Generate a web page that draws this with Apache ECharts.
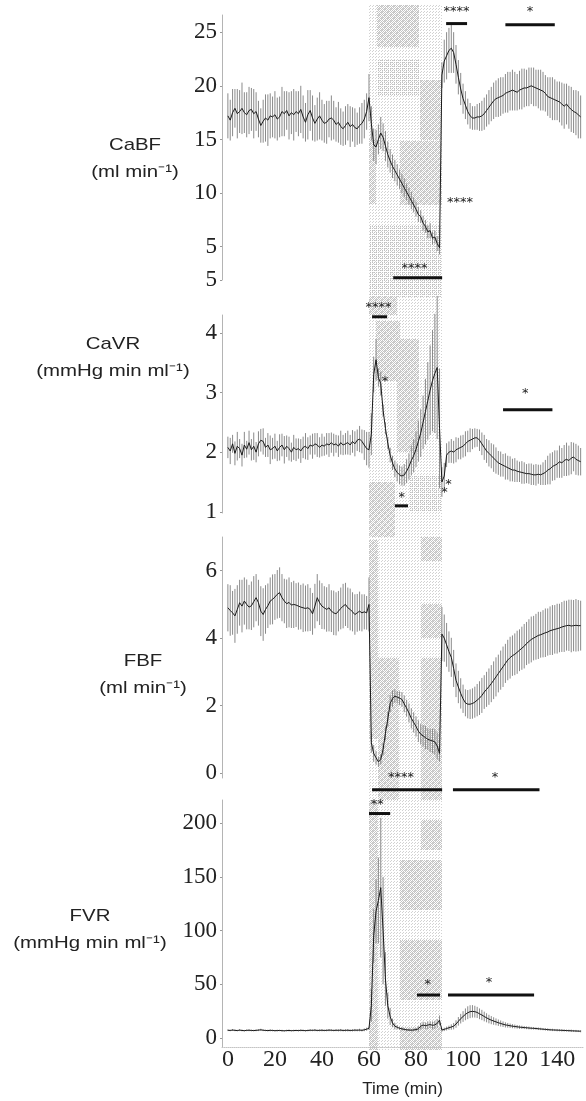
<!DOCTYPE html>
<html>
<head>
<meta charset="utf-8">
<script src="https://cdn.jsdelivr.net/npm/echarts@6/dist/echarts.min.js"></script>
<style>
html, body { margin: 0; padding: 0; background: #fff; }
#chart { width: 586px; height: 1101px; }
</style>
</head>
<body>
<div id="chart"></div>
<script>
// time points (min)
const minutes = [
  0,1,2,3,4,5,6,7,8,9,10,11,12,13,14,15,16,17,18,19,20,21,22,23,24,25,26,27,28,29,
  30,31,32,33,34,35,36,37,38,39,40,41,42,43,44,45,46,47,48,49,50,51,52,53,54,55,56,57,58,59,
  60,61,62,63,64,65,66,67,68,69,70,71,72,73,74,75,76,77,78,79,80,81,82,83,84,85,86,87,88,89,
  90,91,92,93,94,95,96,97,98,99,100,101,102,103,104,105,106,107,108,109,110,111,112,113,114,115,116,117,118,119,
  120,121,122,123,124,125,126,127,128,129,130,131,132,133,134,135,136,137,138,139,140,141,142,143,144,145,146,147,148,149,150
];
const xTicks = [0, 20, 40, 60, 80, 100, 120, 140];

// CaBF (ml min-1)
const cabfMean = [
  17.2,16.8,17.5,17.9,17.4,17.6,17.9,17.5,17.3,17.7,
  17.8,17.4,17.6,16.9,16.3,16.7,17.0,16.8,17.2,17.1,
  17.3,16.9,17.1,17.6,17.4,17.7,17.2,17.5,17.3,17.6,
  17.4,17.8,17.1,16.6,17.3,17.7,17.0,16.5,16.9,17.2,
  16.8,16.5,16.6,16.9,17.0,16.8,16.4,16.6,16.2,16.0,
  16.3,16.6,16.2,16.4,16.1,16.0,16.3,16.5,16.9,17.6,
  18.9,16.5,14.5,14.3,15.0,15.6,15.2,14.4,13.6,13.0,
  12.5,12.1,11.7,11.3,10.9,10.5,10.1,9.7,9.3,8.9,
  8.5,8.0,7.8,7.2,6.9,6.4,6.5,5.8,5.9,5.3,
  4.9,21.0,22.3,22.8,23.3,23.5,23.1,22.0,20.8,19.7,
  18.8,18.2,17.6,17.2,17.0,17.0,17.1,17.1,17.2,17.4,
  17.7,18.0,18.3,18.6,18.8,18.9,19.0,19.1,19.3,19.4,
  19.5,19.6,19.5,19.4,19.6,19.7,19.8,19.8,19.9,20.0,
  19.9,19.8,19.7,19.6,19.5,19.3,19.0,18.9,18.8,18.7,
  18.6,18.5,18.3,18.1,18.3,18.0,17.8,17.6,17.5,17.3,17.1
];
const cabfSe = [
  2.1,1.9,2.2,1.8,2.3,2.0,2.4,1.9,2.1,2.2,
  2.0,2.3,1.8,1.7,1.6,2.0,2.2,2.4,2.1,1.9,
  2.2,2.0,1.9,2.3,2.1,1.8,2.2,2.0,2.4,1.9,
  2.1,2.2,2.0,1.8,2.3,1.9,2.1,1.7,2.0,2.2,
  1.9,1.8,2.0,1.7,2.1,1.8,1.6,1.9,1.7,1.6,
  1.8,1.7,1.9,1.6,1.8,1.5,1.7,1.9,1.8,1.7,
  2.2,1.6,1.5,1.6,1.4,1.5,1.3,1.4,1.2,1.1,
  1.1,1.0,1.0,0.9,0.9,0.9,0.8,0.8,0.8,0.7,
  0.7,0.7,0.6,0.7,0.6,0.6,0.7,0.6,0.6,0.7,
  0.6,1.2,2.0,2.2,2.1,2.3,1.9,1.8,1.6,1.5,
  1.4,1.3,1.2,1.2,1.1,1.1,1.2,1.3,1.4,1.5,
  1.5,1.6,1.6,1.7,1.7,1.8,1.8,1.7,1.8,1.9,
  1.8,1.9,1.8,1.7,1.8,1.9,1.8,1.7,1.8,1.7,
  1.8,1.7,1.8,1.9,1.8,1.7,1.8,1.9,2.0,1.9,
  1.8,1.9,2.0,2.1,1.9,2.0,2.1,2.0,2.1,2.2,2.0
];

// CaVR (mmHg min ml-1)
const cavrMean = [
  2.08,2.02,2.14,1.98,2.10,2.06,1.95,2.12,2.05,2.16,
  2.04,2.10,2.00,2.14,2.20,2.18,2.08,2.12,2.04,2.06,
  2.10,2.02,2.08,2.12,2.04,2.10,2.06,2.00,2.08,2.04,
  2.06,2.02,2.08,2.10,2.06,2.12,2.10,2.14,2.12,2.08,
  2.12,2.10,2.14,2.12,2.16,2.12,2.14,2.10,2.16,2.12,
  2.14,2.16,2.12,2.18,2.14,2.20,2.22,2.18,2.12,2.06,
  2.04,2.30,3.30,3.55,3.25,3.15,2.70,2.40,2.15,1.95,
  1.82,1.72,1.66,1.62,1.60,1.62,1.68,1.76,1.86,1.94,
  2.05,2.18,2.32,2.50,2.68,2.86,3.04,3.20,3.32,3.42,
  2.40,1.50,1.60,1.95,2.00,2.02,2.00,2.04,2.06,2.08,
  2.10,2.14,2.18,2.20,2.22,2.24,2.24,2.20,2.14,2.08,
  2.02,1.98,1.94,1.90,1.86,1.82,1.80,1.78,1.76,1.74,
  1.72,1.70,1.70,1.68,1.67,1.66,1.65,1.64,1.64,1.63,
  1.62,1.62,1.63,1.62,1.64,1.66,1.70,1.72,1.76,1.78,
  1.80,1.84,1.82,1.86,1.88,1.86,1.90,1.92,1.88,1.86,1.84
];
const cavrSe = [
  0.18,0.22,0.15,0.20,0.24,0.16,0.19,0.22,0.14,0.20,
  0.18,0.23,0.17,0.21,0.19,0.22,0.16,0.20,0.24,0.18,
  0.21,0.17,0.22,0.19,0.23,0.18,0.20,0.16,0.21,0.19,
  0.17,0.20,0.18,0.22,0.19,0.16,0.21,0.18,0.20,0.17,
  0.19,0.16,0.18,0.20,0.17,0.19,0.15,0.18,0.20,0.17,
  0.18,0.20,0.17,0.19,0.21,0.18,0.22,0.20,0.25,0.28,
  0.30,0.35,0.30,0.35,0.15,0.20,0.10,0.10,0.10,0.12,
  0.12,0.14,0.15,0.16,0.16,0.18,0.20,0.22,0.25,0.28,
  0.30,0.34,0.40,0.45,0.55,0.65,0.75,0.85,1.00,1.20,
  1.00,0.25,0.22,0.20,0.18,0.20,0.19,0.21,0.18,0.20,
  0.19,0.21,0.18,0.20,0.17,0.16,0.15,0.18,0.19,0.21,
  0.20,0.22,0.21,0.23,0.22,0.20,0.21,0.19,0.22,0.20,
  0.21,0.19,0.20,0.18,0.17,0.19,0.18,0.16,0.17,0.18,
  0.17,0.18,0.16,0.17,0.19,0.21,0.24,0.26,0.24,0.25,
  0.23,0.27,0.25,0.26,0.28,0.25,0.27,0.24,0.26,0.25,0.23
];

// FBF (ml min-1)
const fbfMean = [
  4.90,4.82,4.75,4.66,4.85,5.05,4.95,5.10,5.00,4.92,
  4.96,5.08,5.20,5.05,4.80,4.70,4.85,4.96,5.10,5.15,
  5.22,5.30,5.35,5.20,5.10,5.02,5.06,4.98,5.00,4.98,
  4.95,4.92,4.90,4.88,4.90,4.85,4.72,4.95,5.20,5.05,
  4.95,4.90,4.85,4.90,4.80,4.75,4.72,4.80,4.88,4.95,
  5.00,4.90,4.85,4.78,4.70,4.75,4.80,4.75,4.78,4.75,
  5.00,0.90,0.58,0.45,0.33,0.40,0.70,1.18,1.60,2.06,
  2.20,2.28,2.25,2.22,2.18,2.05,1.92,1.78,1.62,1.50,
  1.38,1.24,1.15,1.10,1.05,1.00,0.97,0.95,0.92,0.80,
  0.58,4.12,4.00,3.80,3.60,3.43,3.10,2.75,2.55,2.36,
  2.20,2.08,2.04,2.04,2.06,2.10,2.16,2.22,2.30,2.40,
  2.48,2.56,2.65,2.75,2.85,2.95,3.05,3.15,3.25,3.35,
  3.42,3.48,3.52,3.58,3.64,3.70,3.76,3.84,3.90,3.96,
  4.00,4.04,4.08,4.10,4.13,4.16,4.18,4.22,4.24,4.26,
  4.28,4.30,4.33,4.35,4.37,4.38,4.36,4.37,4.38,4.37,4.37
];
const fbfSe = [
  0.70,0.75,0.65,0.80,0.72,0.68,0.78,0.70,0.74,0.66,
  0.72,0.76,0.70,0.68,0.74,0.78,0.72,0.66,0.70,0.74,
  0.68,0.72,0.75,0.70,0.66,0.72,0.74,0.68,0.70,0.65,
  0.70,0.66,0.72,0.68,0.70,0.64,0.62,0.66,0.70,0.66,
  0.68,0.64,0.66,0.70,0.62,0.66,0.64,0.60,0.62,0.66,
  0.64,0.60,0.62,0.58,0.60,0.56,0.58,0.55,0.52,0.50,
  0.80,0.30,0.25,0.20,0.15,0.15,0.18,0.20,0.22,0.25,
  0.25,0.20,0.18,0.20,0.22,0.25,0.25,0.28,0.30,0.30,
  0.30,0.32,0.30,0.32,0.34,0.32,0.35,0.36,0.38,0.40,
  0.25,0.80,0.70,0.65,0.60,0.58,0.55,0.50,0.48,0.45,
  0.42,0.40,0.42,0.44,0.45,0.46,0.48,0.50,0.52,0.50,
  0.52,0.54,0.55,0.56,0.58,0.56,0.58,0.60,0.58,0.60,
  0.62,0.60,0.62,0.64,0.62,0.64,0.66,0.64,0.66,0.68,
  0.66,0.68,0.70,0.68,0.70,0.72,0.70,0.72,0.74,0.72,
  0.74,0.72,0.74,0.76,0.74,0.76,0.78,0.76,0.78,0.76,0.74
];

// FVR (mmHg min ml-1)
const fvrMean = [
  7.2,7.0,7.4,7.1,6.9,7.3,7.0,6.8,7.1,7.2,
  7.0,6.9,7.1,7.3,7.6,7.2,7.0,6.9,7.1,7.0,
  6.8,6.9,7.0,6.8,6.7,6.9,7.0,6.8,6.9,7.0,
  6.9,7.1,7.0,6.8,7.0,7.2,7.1,7.3,7.0,7.1,
  7.2,7.0,7.1,7.3,7.2,7.0,7.2,7.1,7.3,7.0,
  7.1,7.2,7.0,7.1,7.3,7.2,7.4,7.1,7.6,8.2,
  9.0,30.0,95.0,118.0,128.0,140.0,100.0,55.0,30.0,20.0,
  14.0,11.0,10.0,9.0,8.5,8.0,7.6,7.4,7.3,7.5,
  7.8,8.5,11.0,12.0,11.5,12.0,12.5,11.8,12.2,13.5,
  16.5,7.4,8.0,8.8,9.5,10.2,11.0,13.0,15.5,18.0,
  20.0,22.0,23.5,24.5,24.8,24.5,23.8,22.5,21.4,20.0,
  18.8,17.6,16.6,15.8,15.0,14.2,13.5,12.8,12.2,11.8,
  11.4,11.0,10.7,10.4,10.1,9.9,9.7,9.5,9.3,9.1,
  9.0,8.8,8.6,8.4,8.2,8.0,7.8,7.6,7.5,7.4,
  7.3,7.2,7.1,7.0,6.9,6.8,6.7,6.6,6.5,6.4,6.3
];
const fvrSe = [
  0.8,0.7,0.9,0.8,0.7,0.9,0.8,0.7,0.8,0.9,
  0.8,0.7,0.8,0.9,1.0,0.8,0.7,0.8,0.9,0.8,
  0.7,0.8,0.7,0.8,0.7,0.8,0.9,0.7,0.8,0.7,
  0.8,0.9,0.8,0.7,0.8,0.9,0.8,1.0,0.8,0.9,
  1.0,0.8,0.9,1.0,0.9,0.8,0.9,1.0,1.1,0.9,
  1.0,1.1,0.9,1.0,1.1,1.0,1.2,1.0,1.3,1.4,
  1.5,15,25,30,40,65,50,25,12,8,
  4,3,2,1.5,1.5,1.2,1.2,1.0,1.0,1.2,
  1.5,2.5,3.0,3.2,3.0,3.5,3.2,3.6,3.8,4.0,
  4.5,1.5,1.6,1.8,2.0,2.5,3.0,3.5,4.0,4.5,
  5.0,5.5,6.0,6.0,5.8,5.5,5.2,5.0,4.8,4.5,
  4.2,4.0,3.8,3.5,3.2,3.0,2.8,2.6,2.4,2.2,
  2.0,1.9,1.8,1.7,1.6,1.5,1.4,1.3,1.3,1.2,
  1.2,1.1,1.2,1.1,1.0,1.1,1.2,1.0,1.1,1.0,
  1.1,1.0,1.1,1.0,0.9,1.0,1.1,0.9,1.0,0.9,1.0
];

// tick values per panel
const cabfTicks = [1.9, 5, 10, 15, 20, 25];
const cavrTicks = [1, 2, 3, 4];
const fbfTicks  = [0, 2, 4, 6];
const fvrTicks  = [0, 50, 100, 150, 200];

// significance bars: [start, end, lineValue, label, labelTime, labelValue]
const cabfSig = [
  [92.8, 101.7, 25.8, '****', 97.2, 26.9],
  [118, 139, 25.7, '*', 128.5, 26.9],
  [null, null, null, '****', 98.7, 9.1],
  [70.3, 91.1, 2.1, '****', 79.3, 3.0]
];
const cavrSig = [
  [61.3, 67.7, 4.27, '****', 64.0, 4.42],
  [null, null, null, '*', 66.8, 3.18],
  [71, 76.6, 1.1, '*', 73.9, 1.23],
  [null, null, null, '*', 93.8, 1.45],
  [null, null, null, '*', 92.1, 1.32],
  [117, 138, 2.71, '*', 126.4, 2.99]
];
const fbfSig = [
  [61.3, 91.1, -0.5, '****', 73.6, -0.15],
  [95.7, 132.5, -0.5, '*', 113.6, -0.15]
];
const fvrSig = [
  [60, 69, 209, '**', 63.5, 217],
  [80.4, 90.2, 40, '*', 85, 50],
  [93.6, 130.2, 40, '*', 111, 52]
];

// shaded ischaemia period: [start, end, low, high, density]
const cabfShade = [
  [60, 91, 0.3, 27.5, 0], [63.5, 81.5, 23.6, 27.5, 1], [63.5, 81.5, 19.1, 22.5, 2],
  [81.5, 91, 14.9, 20.5, 1], [73, 91, 8.9, 14.9, 1], [60, 63, 8.9, 15, 1], [60, 91, 0.3, 7, 2]
];
const cavrShade = [
  [60, 91, 0.58, 4.62, 0], [60, 72, 4.3, 4.62, 1], [63, 73, 3.2, 4.2, 1],
  [72, 81.5, 2.0, 3.9, 1], [60, 71, 0.58, 1.5, 1], [77, 91, 1.0, 1.6, 2]
];
const fbfShade = [
  [60, 91, -0.8, 7.71, 0], [60, 64, 1.0, 6.9, 1], [64, 73, -0.8, 3.4, 1],
  [82, 91, 4.0, 5.0, 1], [82, 91, 6.3, 7.0, 1], [82, 91, -0.8, 3.4, 1]
];
const fvrShade = [
  [60, 91, -11, 221.6, 0], [60, 64, -11, 221.6, 1], [73, 91, 119, 166, 1],
  [73, 91, 35, 91, 1], [73, 91, -11, 10, 1], [82, 91, 175, 203, 1]
];

const panels = [
  { mean: cabfMean, se: cabfSe, min: 1.9, max: 26.6, ticks: cabfTicks, sig: cabfSig, shade: cabfShade,
    top: 15, height: 265, title: 'CaBF\n(ml min⁻¹)', tx: 135, ty: 159 },
  { mean: cavrMean, se: cavrSe, min: 0.98, max: 4.3, ticks: cavrTicks, sig: cavrSig, shade: cavrShade,
    top: 315, height: 198, title: 'CaVR\n(mmHg min ml⁻¹)', tx: 113, ty: 358 },
  { mean: fbfMean, se: fbfSe, min: -0.15, max: 7, ticks: fbfTicks, sig: fbfSig, shade: fbfShade,
    top: 537, height: 241, title: 'FBF\n(ml min⁻¹)', tx: 143, ty: 675 },
  { mean: fvrMean, se: fvrSe, min: -8.4, max: 221.6, ticks: fvrTicks, sig: fvrSig, shade: fvrShade,
    top: 800, height: 247, title: 'FVR\n(mmHg min ml⁻¹)', tx: 90, ty: 930 }
];

// halftone-like dot patterns for the shaded period
function dotPattern(size, dots, color) {
  const c = document.createElement('canvas');
  c.width = size;
  c.height = size;
  const ctx = c.getContext('2d');
  ctx.fillStyle = color;
  dots.forEach((d) => ctx.fillRect(d[0], d[1], 1, 1));
  return { image: c, repeat: 'repeat' };
}
const shadeFills = [
  dotPattern(3, [[0, 0], [1, 2]], '#d2d2d2'),
  dotPattern(2, [[0, 0], [1, 1]], '#c4c4c4'),
  dotPattern(2, [[0, 0]], '#c0c0c0')
];

function renderShade(params, api) {
  const p1 = api.coord([api.value(0), api.value(3)]);
  const p2 = api.coord([api.value(1), api.value(2)]);
  return {
    type: 'rect',
    shape: { x: Math.round(p1[0]), y: Math.round(p1[1]), width: Math.round(p2[0] - p1[0]), height: Math.round(p2[1] - p1[1]) },
    style: { fill: shadeFills[api.value(4)] }
  };
}

function renderErr(params, api) {
  const t = api.value(0);
  const a = api.coord([t, api.value(1)]);
  const b = api.coord([t, api.value(2)]);
  return {
    type: 'line',
    shape: { x1: a[0], y1: a[1], x2: b[0], y2: b[1] },
    style: { stroke: '#8a8a8a', lineWidth: 1 }
  };
}

function makeSigRenderer(rows) {
  return function (params, api) {
    const r = rows[params.dataIndex];
    const children = [];
    if (r[0] != null) {
      const a = api.coord([r[0], r[2]]);
      const b = api.coord([r[1], r[2]]);
      children.push({
        type: 'line',
        shape: { x1: a[0], y1: a[1], x2: b[0], y2: b[1] },
        style: { stroke: '#111', lineWidth: 3 }
      });
    }
    const c = api.coord([r[4], r[5]]);
    children.push({
      type: 'text',
      x: c[0], y: c[1],
      style: { text: r[3], fill: '#222', font: '13px "DejaVu Sans"', align: 'center', verticalAlign: 'middle' }
    });
    return { type: 'group', children: children };
  };
}

const grid = [], xAxis = [], yAxis = [], series = [], graphic = [];

panels.forEach((p, i) => {
  const last = i == panels.length - 1;

  grid.push({ left: 222, right: 3, top: p.top, height: p.height });

  xAxis.push({
    gridIndex: i, type: 'value', min: -2.5, max: 151,
    show: last,
    splitLine: { show: false },
    axisLine: { show: true, onZero: false, lineStyle: { color: '#c4c4c4', type: 'dotted', width: 1 } },
    axisTick: { show: false },
    axisLabel: {
      customValues: xTicks, margin: 1, color: '#222',
      fontFamily: 'Liberation Serif', fontSize: 24
    },
    name: 'Time (min)', nameLocation: 'middle', nameGap: 34,
    nameTextStyle: { fontFamily: 'Liberation Sans', fontSize: 17, color: '#222' }
  });

  yAxis.push({
    gridIndex: i, type: 'value', min: p.min, max: p.max,
    splitLine: { show: false },
    axisLine: { show: true, onZero: false, lineStyle: { color: '#b4b4b4', width: 1 } },
    axisTick: { show: true, customValues: p.ticks, length: 2, lineStyle: { color: '#999' } },
    axisLabel: {
      customValues: p.ticks, margin: 5, color: '#222',
      fontFamily: 'Liberation Serif', fontSize: 23,
      formatter: (v) => (v < 2 && i == 0 ? '5' : String(v))
    }
  });

  series.push({
    type: 'custom', xAxisIndex: i, yAxisIndex: i, z: 0, clip: false, silent: true,
    renderItem: renderShade, data: p.shade
  });

  series.push({
    type: 'custom', xAxisIndex: i, yAxisIndex: i, z: 2, clip: false, silent: true,
    renderItem: renderErr,
    data: minutes.map((t, k) => [t, p.mean[k] - p.se[k], p.mean[k] + p.se[k]])
  });

  series.push({
    type: 'line', xAxisIndex: i, yAxisIndex: i, z: 3, silent: true,
    symbol: 'none', lineStyle: { color: '#1a1a1a', width: 1 },
    data: minutes.map((t, k) => [t, p.mean[k]])
  });

  series.push({
    type: 'custom', xAxisIndex: i, yAxisIndex: i, z: 4, clip: false, silent: true,
    renderItem: makeSigRenderer(p.sig),
    data: p.sig.map((r) => [r[4], r[5]])
  });

  graphic.push({
    type: 'text', x: p.tx, y: p.ty, scaleX: 1.2,
    style: {
      text: p.title, fill: '#222', font: '17px "Liberation Sans"',
      align: 'center', verticalAlign: 'middle', lineHeight: 27
    }
  });
});

const myChart = echarts.init(document.getElementById('chart'));
myChart.setOption({
  animation: false,
  backgroundColor: '#fff',
  grid: grid,
  xAxis: xAxis,
  yAxis: yAxis,
  series: series,
  graphic: graphic
});
</script>
</body>
</html>
